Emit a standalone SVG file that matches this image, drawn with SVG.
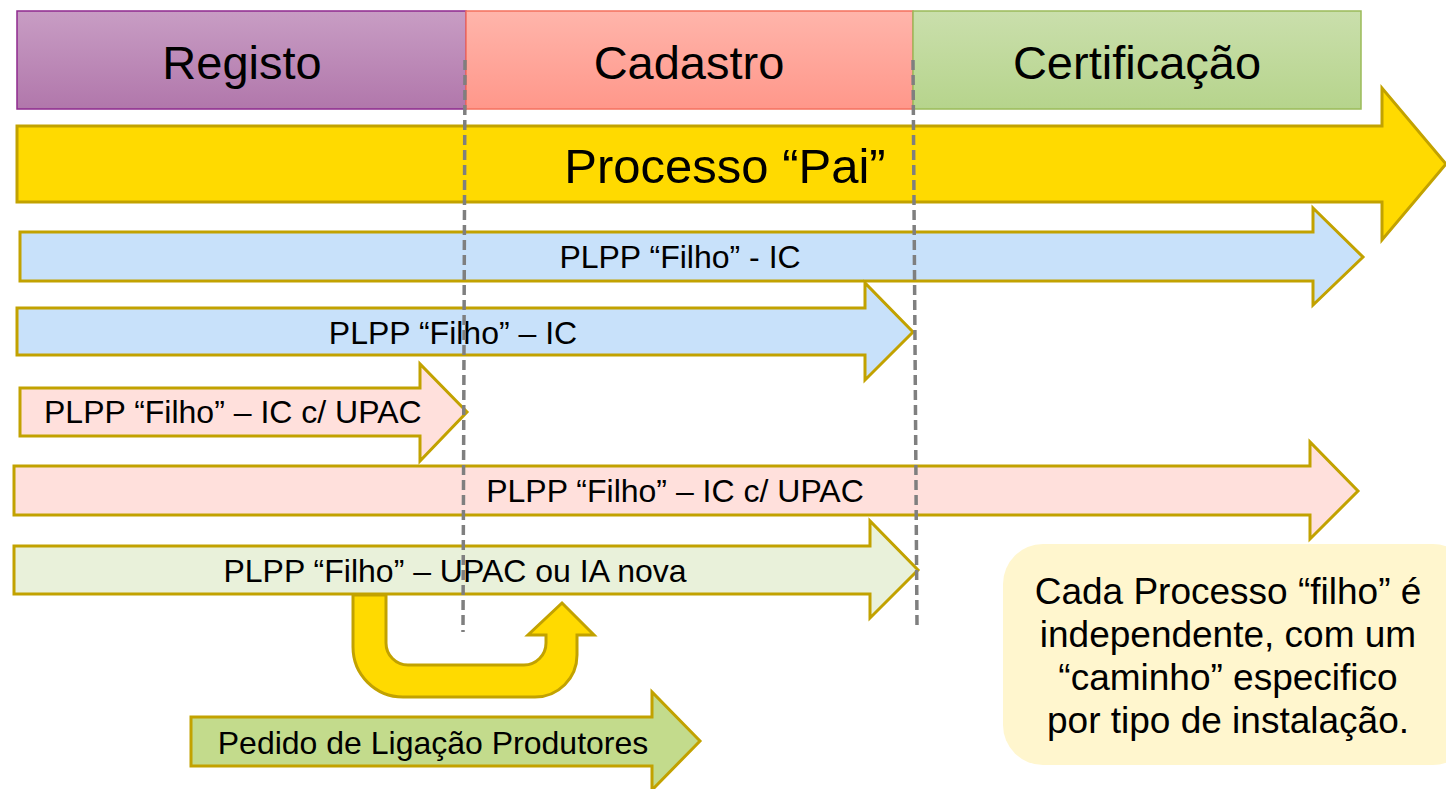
<svg xmlns="http://www.w3.org/2000/svg" width="1446" height="789" viewBox="0 0 1446 789">
<style>
  text { font-family: "Liberation Sans", Arial, sans-serif; fill: #000; }
  .hdr { font-size: 47px; text-anchor: middle; }
  .lbl { font-size: 32px; text-anchor: middle; }
  .arrow { stroke: #C2A200; stroke-width: 3; stroke-linejoin: miter; }
  .dash { stroke: #7F7F7F; stroke-width: 3.5; stroke-dasharray: 10 5; fill: none; }
</style>
<defs>
  <linearGradient id="gReg" x1="0" y1="0" x2="0" y2="1">
    <stop offset="0" stop-color="#C89DC4"/>
    <stop offset="1" stop-color="#B177AB"/>
  </linearGradient>
  <linearGradient id="gCad" x1="0" y1="0" x2="0" y2="1">
    <stop offset="0" stop-color="#FFB5AB"/>
    <stop offset="1" stop-color="#FF978A"/>
  </linearGradient>
  <linearGradient id="gCert" x1="0" y1="0" x2="0" y2="1">
    <stop offset="0" stop-color="#CADFAC"/>
    <stop offset="1" stop-color="#B6D48C"/>
  </linearGradient>
</defs>
<rect width="1446" height="789" fill="#FFFFFF"/>

<g id="registo">
  <rect x="17" y="11" width="449" height="98" fill="url(#gReg)" stroke="#8E2A8E" stroke-width="1.5"/>
  <text class="hdr" x="242" y="79">Registo</text>
</g>
<g id="cadastro">
  <rect x="466" y="11" width="447" height="98" fill="url(#gCad)" stroke="#F4705E" stroke-width="1.5"/>
  <text class="hdr" x="689" y="79">Cadastro</text>
</g>
<g id="certificacao">
  <rect x="913" y="11" width="448" height="98" fill="url(#gCert)" stroke="#9BBB59" stroke-width="1.5"/>
  <text class="hdr" x="1137" y="79">Certificação</text>
</g>

<g id="processo-pai">
  <polygon class="arrow" fill="#FFDA00" points="17,126 1382,126 1382,88 1446,164 1382,240 1382,202 17,202"/>
  <text x="725" y="183" style="font-size:49px;text-anchor:middle">Processo “Pai”</text>
</g>

<g id="filho1">
  <polygon class="arrow" fill="#C8E1FA" points="20,232 1313,232 1313,208 1363,257 1313,305 1313,281 20,281"/>
  <text class="lbl" x="680" y="268">PLPP “Filho” - IC</text>
</g>
<g id="filho2">
  <polygon class="arrow" fill="#C8E1FA" points="17,308 865,308 865,283 913,332 865,380 865,355 17,355"/>
  <text class="lbl" x="453" y="344">PLPP “Filho” – IC</text>
</g>
<g id="filho3">
  <polygon class="arrow" fill="#FFE0DC" points="20,388 420,388 420,364 467,412 420,461 420,436 20,436"/>
  <text x="44" y="423" style="font-size:32px">PLPP “Filho” – IC c/ UPAC</text>
</g>
<g id="filho4">
  <polygon class="arrow" fill="#FFE0DC" points="14,466 1310,466 1310,442 1358,491 1310,539 1310,515 14,515"/>
  <text class="lbl" x="675" y="502">PLPP “Filho” – IC c/ UPAC</text>
</g>
<g id="filho5">
  <polygon class="arrow" fill="#E9F1DA" points="14,546 870,546 870,521 918,570 870,618 870,594 14,594"/>
  <text class="lbl" x="455" y="582">PLPP “Filho” – UPAC ou IA nova</text>
</g>

<g id="pedido">
  <polygon class="arrow" fill="#C3DB8C" points="191,717 652,717 652,692 700,741 652,790 652,766 191,766"/>
  <text class="lbl" x="433" y="754">Pedido de Ligação Produtores</text>
</g>

<g id="callout">
  <rect x="1003" y="544" width="470" height="221" rx="40" ry="40" fill="#FFF6CE"/>
  <text x="1228" y="604" style="font-size:37px;text-anchor:middle">Cada Processo “filho” é</text>
  <text x="1228" y="647" style="font-size:37px;text-anchor:middle">independente, com um</text>
  <text x="1228" y="690" style="font-size:37px;text-anchor:middle">“caminho” especifico</text>
  <text x="1228" y="733" style="font-size:37px;text-anchor:middle">por tipo de instalação.</text>
</g>

<g id="connectors">
  <path class="arrow" fill="#FFDA00" d="M353,595 H386 V643 A22,22 0 0 0 408,665 H524 A22,22 0 0 0 546,643 V635 H528 L562,603 L594,635 H577 V655 A42,42 0 0 1 535,697 H403 A50,50 0 0 1 353,647 Z"/>
  <line class="dash" x1="465" y1="60" x2="463" y2="632"/>
  <line class="dash" x1="913" y1="60" x2="917" y2="625"/>
</g>
</svg>
